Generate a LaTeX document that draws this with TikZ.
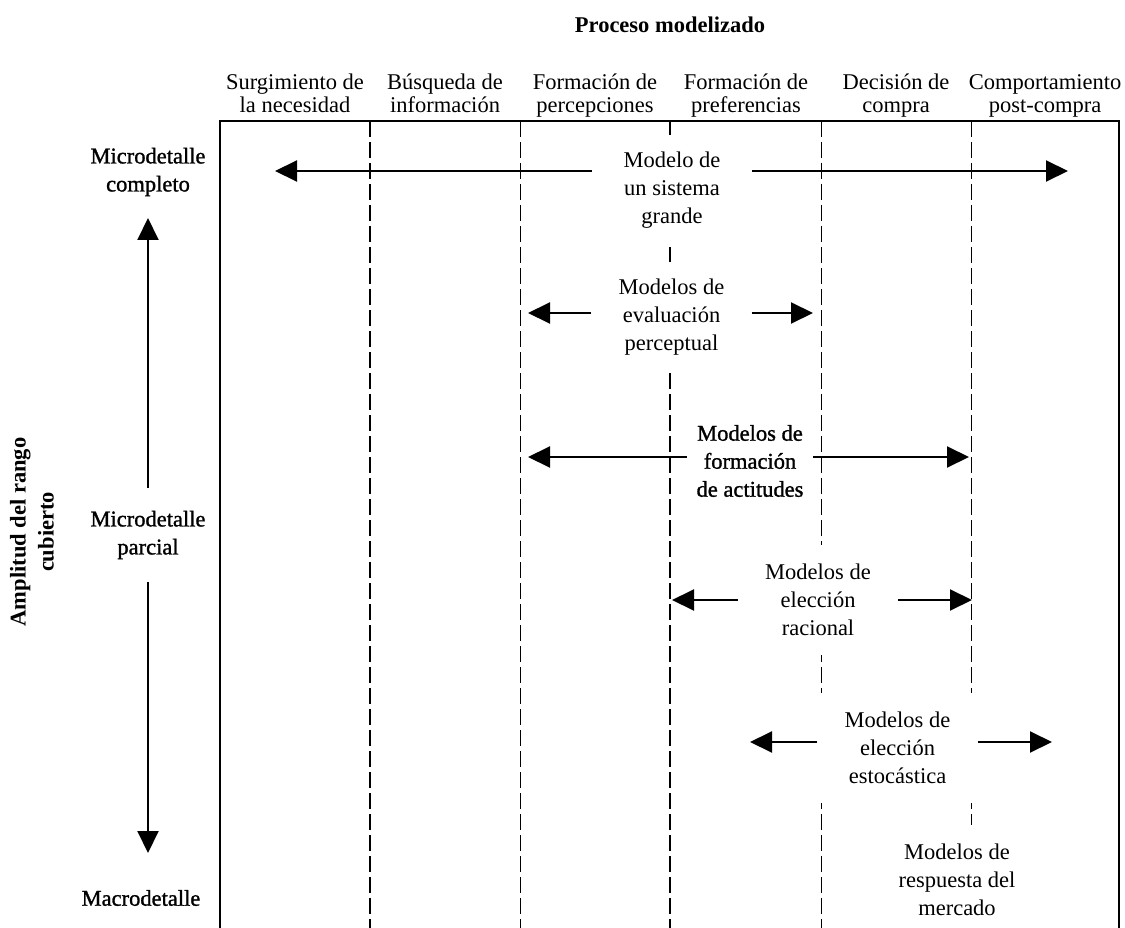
\documentclass[tikz,border=0pt]{standalone}
\usepackage{fontspec}
\setmainfont{Liberation Serif}
\newfontfamily\semib[FakeBold=1.2]{Liberation Serif}
\usetikzlibrary{arrows.meta}
\newcommand\bodysize{\fontsize{22.5}{28}\selectfont}
\newcommand\headsize{\fontsize{22.5}{23.5}\selectfont}
\begin{document}
\begin{tikzpicture}[x=1pt,y=-1pt,
  frame/.style={line width=1.6pt},
  divider/.style={line width=1.6pt, dash pattern=on 16pt off 5pt},
  arr/.style={line width=2pt, -{Triangle[length=22pt,width=21pt]}},
  txt/.style={align=center, inner sep=0pt, font=\bodysize},
  modelbox/.style={txt, fill=white, minimum width=160pt, minimum height=110pt},
  head/.style={align=center, inner sep=0pt, font=\headsize, anchor=south},
  level/.style={txt, font=\bodysize\semib}
]
\useasboundingbox (0,0) rectangle (1125,928);
\fill[white] (0,0) rectangle (1125,928);

% frame (open at the bottom)
\draw[frame] (220,928) -- (220,121) -- (1119,121) -- (1119,928);

% dashed dividers
\foreach \x in {370,520.5,670,821.5,971.5}
  \draw[divider] (\x,121) -- (\x,928);

% title and column heads
\node[txt, font=\bodysize\bfseries] (title) at (670,25) {Proceso modelizado};
\node[head] (h1) at (295,120) {Surgimiento de\\la necesidad\strut};
\node[head] (h2) at (445,120) {Búsqueda de\\información\strut};
\node[head] (h3) at (595,120) {Formación de\\percepciones\strut};
\node[head] (h4) at (746,120) {Formación de\\preferencias\strut};
\node[head] (h5) at (896,120) {Decisión de\\compra\strut};
\node[head] (h6) at (1045,120) {Comportamiento\\post-compra\strut};

% left axis
\node[txt, font=\bodysize\bfseries, rotate=90] (axis) at (32,532) {Amplitud del rango\\cubierto};
\node[level] (lv1) at (148,172) {Microdetalle\\completo};
\node[level, minimum height=94pt] (lv2) at (148,535) {Microdetalle\\parcial};
\node[level] (lv3) at (141,898) {Macrodetalle};
\coordinate (upTip) at (148,218);
\coordinate (downTip) at (148,853);
\draw[arr] (lv2.north) -- (upTip);
\draw[arr] (lv2.south) -- (downTip);

% model nodes
\node[modelbox] (m1) at (672,190) {Modelo de\\un sistema\\grande};
\node[modelbox] (m2) at (671.5,317.5) {Modelos de\\evaluación\\perceptual};
\node[txt, font=\bodysize\semib, minimum width=126pt] (m3) at (750,461) {Modelos de\\formación\\de actitudes};
\node[modelbox] (m4) at (818,600) {Modelos de\\elección\\racional};
\node[modelbox] (m5) at (897.5,747.5) {Modelos de\\elección\\estocástica};
\node[modelbox] (m6) at (957,880) {Modelos de\\respuesta del\\mercado};

% arrow tips
\coordinate (m1l) at (275,171);   \coordinate (m1r) at (1068,171);
\coordinate (m2l) at (528,313);   \coordinate (m2r) at (813,313);
\coordinate (m3l) at (528,457);   \coordinate (m3r) at (969,457);
\coordinate (m4l) at (672,600);   \coordinate (m4r) at (972,600);
\coordinate (m5l) at (750,742);   \coordinate (m5r) at (1052,742);

\draw[arr] (m1.west |- m1l) -- (m1l);
\draw[arr] (m1.east |- m1r) -- (m1r);
\draw[arr] (m2.west |- m2l) -- (m2l);
\draw[arr] (m2.east |- m2r) -- (m2r);
\draw[arr] (m3.west |- m3l) -- (m3l);
\draw[arr] (m3.east |- m3r) -- (m3r);
\draw[arr] (m4.west |- m4l) -- (m4l);
\draw[arr] (m4.east |- m4r) -- (m4r);
\draw[arr] (m5.west |- m5l) -- (m5l);
\draw[arr] (m5.east |- m5r) -- (m5r);
\end{tikzpicture}
\end{document}
